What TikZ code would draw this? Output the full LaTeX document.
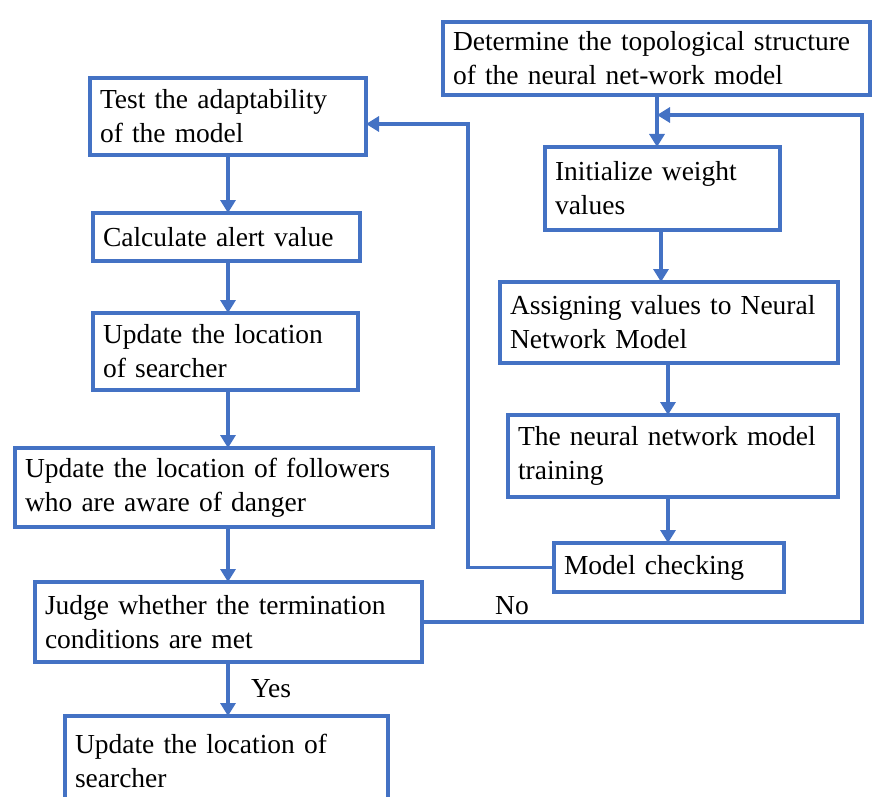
\documentclass[tikz,border=0pt]{standalone}
\usepackage{fontspec}
\setmainfont{Liberation Serif}
\usetikzlibrary{arrows.meta}
\definecolor{flowblue}{HTML}{4472C4}
\tikzset{
    box/.style={draw=flowblue, line width=4pt, anchor=north west, align=left,
        inner xsep=10pt, inner ysep=2pt, outer sep=0pt,
        font=\fontsize{27.5}{34}\selectfont},
    flow/.style={draw=flowblue, line width=3.5pt,
        -{Triangle[length=13pt,width=15pt]}},
    lbl/.style={font=\fontsize{27.5}{34}\selectfont}
}
\begin{document}
\begin{tikzpicture}[x=1pt,y=-1pt]
    \useasboundingbox (0,0) rectangle (878,797);
    % left column
    \node[box, text width=256, minimum height=77] (test) at (90,78)
        {Test the adaptability\\of the model};
    \node[box, text width=247, minimum height=48] (alert) at (93,213)
        {Calculate alert value};
    \node[box, text width=245, minimum height=77] (searcher) at (93,313)
        {Update the location\\of searcher};
    \node[box, text width=398, minimum height=79] (followers) at (15,448)
        {Update the location of followers\\who are aware of danger};
    \node[box, text width=367, minimum height=80] (judge) at (35,582)
        {Judge whether the termination\\conditions are met};
    \node[box, text width=303, minimum height=90] (final) at (65,716)
        {Update the location of\\searcher};
    % right column
    \node[box, text width=407, minimum height=73] (topo) at (443,22)
        {Determine the topological structure\\of the neural net-work model};
    \node[box, text width=215, minimum height=83] (init) at (545,147)
        {Initialize weight\\values};
    \node[box, text width=318, minimum height=81] (assign) at (500,282)
        {Assigning values to Neural\\Network Model};
    \node[box, text width=310, minimum height=82] (train) at (508,415)
        {The neural network model\\training};
    \node[box, text width=210, minimum height=49] (check) at (554,543)
        {Model checking};

    \coordinate (join) at (657,115);
    \coordinate (back) at (468,124);

    \draw[flow] (test.south -| 228,0) -- (alert.north -| 228,0);
    \draw[flow] (alert.south -| 228,0) -- (searcher.north -| 228,0);
    \draw[flow] (searcher.south -| 228,0) -- (followers.north -| 228,0);
    \draw[flow] (followers.south -| 228,0) -- (judge.north -| 228,0);
    \draw[flow] (judge.south -| 228,0) -- (final.north -| 228,0)
        node[lbl, midway, right=18pt] {Yes};

    \draw[flow] (topo.south -| join) -- (init.north -| join);
    \draw[flow] (init.south -| 661,0) -- (assign.north -| 661,0);
    \draw[flow] (assign.south -| 668,0) -- (train.north -| 668,0);
    \draw[flow] (train.south -| 668,0) -- (check.north -| 668,0);

    \draw[flow] (check.west) -| (back) -- (back -| test.east);
    \draw[flow] (judge.east) -| (862,115) -- (join);
    \node[lbl] (no) at (512,606) {No};
\end{tikzpicture}
\end{document}
